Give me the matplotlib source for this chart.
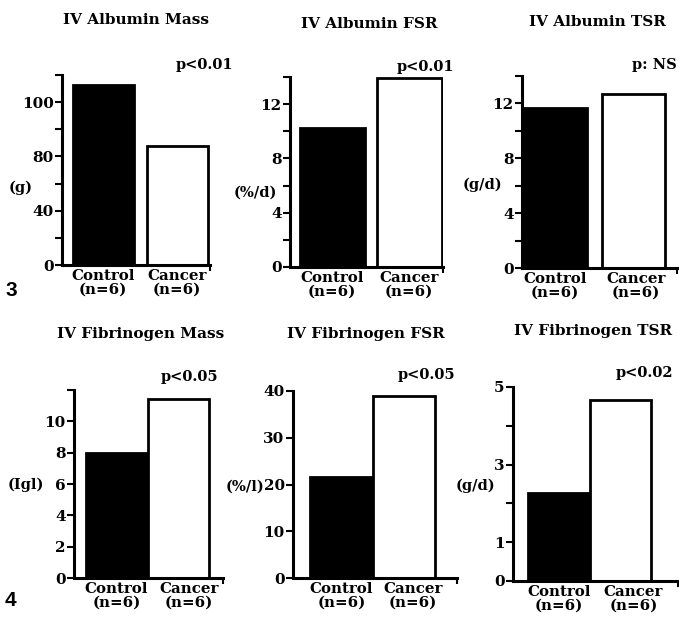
import numpy as np
import matplotlib
matplotlib.use('Agg')
import matplotlib.pyplot as plt

W, H = 679, 623

# ---- data ----
groups = ['Control\n(n=6)', 'Cancer\n(n=6)']

alb_mass = [106.4, 83.8]
alb_fsr = [10.25, 13.9]
alb_tsr = [11.7, 12.7]
fib_mass = [8.0, 11.4]
fib_fsr = [21.7, 38.9]
fib_tsr = [2.28, 4.67]

titles = ['IV Albumin Mass', 'IV Albumin FSR', 'IV Albumin TSR',
          'IV Fibrinogen Mass', 'IV Fibrinogen FSR', 'IV Fibrinogen TSR']
ylabels = ['(g)', '(%/d)', '(g/d)', '(Igl)', '(%/l)', '(g/d)']
pvals = ['p<0.01', 'p<0.01', 'p: NS', 'p<0.05', 'p<0.05', 'p<0.02']

major_ticks = [[0, 40, 80, 100], [0, 4, 8, 12], [0, 4, 8, 12],
               [0, 2, 4, 6, 8, 10], [0, 10, 20, 30, 40], [0, 1, 3, 5]]
minor_ticks = [[20, 60, 90, 110], [2, 6, 10, 14], [2, 6, 10, 14],
               [12], [], [2, 4]]
ylims = [110, 14, 14, 12, 40, 5]

# the albumin mass axis of the original is not evenly labelled
mass_vals = [0, 40, 80, 100, 120]
mass_steps = [0, 2, 4, 6, 8]

# ---- layout (pixels) ----
# spine_x, top_y, zero_y, end_x, bar1 (l, r), bar2 (l, r)
layout = [
    (62, 75, 265, 210, (72, 134), (147, 207)),
    (290, 77, 267, 443, (299, 365), (377, 441)),
    (522, 76, 268, 677, (526, 584), (599, 668)),
    (74, 390, 578, 223, (86, 147), (148, 209)),
    (293, 391, 578, 457, (309, 374), (374, 434)),
    (513, 387, 581, 678, (528, 590), (590, 651)),
]
# where the group labels sit, in bar units (bottom row is shifted right)
label_x = [[0, 1], [0, 1], [0, 1.03], [0, 1.17], [0, 1.14], [0, 1.21]]
title_pos = [(136, 20), (369, 24), (597, 22), (141, 334), (366, 334), (593, 331)]
ylab_pos = [(33, 188), (277, 193), (502, 185), (44, 485), (264, 487), (495, 486)]
p_pos = [(233, 65), (454, 67), (677, 65), (218, 377), (455, 375), (673, 373)]

data = [alb_mass, alb_fsr, alb_tsr, fib_mass, fib_fsr, fib_tsr]

serif = 'DejaVu Serif'
fig = plt.figure(figsize=(W / 100, H / 100), dpi=100)

for i in range(6):
    sx, ty, zy, ex, b1, b2 = layout[i]
    ax = fig.add_axes([sx / W, 1 - zy / H, (ex - sx) / W, (zy - ty) / H])

    if i == 0:
        ax.set_yscale('function',
                      functions=(lambda v: np.interp(v, mass_vals, mass_steps),
                                 lambda s: np.interp(s, mass_steps, mass_vals)))

    c1 = (b1[0] + b1[1]) / 2
    c2 = (b2[0] + b2[1]) / 2
    unit = c2 - c1
    bw = ((b1[1] - b1[0]) + (b2[1] - b2[0])) / 2 / unit
    ax.bar([0, 1], data[i], width=bw, color=['black', 'white'],
           edgecolor='black', linewidth=2)
    ax.set_xlim(-(c1 - sx) / unit, 1 + (ex - c2) / unit)
    ax.set_ylim(0, ylims[i])

    ax.set_yticks(major_ticks[i])
    ax.set_yticklabels([str(t) for t in major_ticks[i]])
    ax.set_yticks(minor_ticks[i], minor=True)
    ax.yaxis.set_minor_formatter(plt.NullFormatter())
    ax.tick_params(axis='y', which='both', direction='out', length=5,
                   width=1.5, pad=1)
    for lab in ax.get_yticklabels():
        lab.set_fontfamily(serif)
        lab.set_fontweight('bold')
        lab.set_fontsize(11)

    ax.set_xticks(label_x[i])
    ax.set_xticklabels(groups, fontfamily=serif, fontweight='bold',
                       fontsize=10.8, linespacing=0.95)
    ax.tick_params(axis='x', which='major', length=0, pad=3)
    ax.set_xticks([ax.get_xlim()[1]], minor=True)
    ax.tick_params(axis='x', which='minor', direction='out', length=4, width=1.5)

    for s in ['top', 'right']:
        ax.spines[s].set_visible(False)
    for s in ['left', 'bottom']:
        ax.spines[s].set_linewidth(2.2)
    ax.patch.set_alpha(0)

    tx, tyy = title_pos[i]
    fig.text(tx / W, 1 - tyy / H, titles[i], ha='center', va='center',
             fontfamily=serif, fontweight='bold', fontsize=11)
    lx, ly = ylab_pos[i]
    fig.text(lx / W, 1 - ly / H, ylabels[i], ha='right', va='center',
             fontfamily=serif, fontweight='bold', fontsize=10.5)
    px, py = p_pos[i]
    fig.text(px / W, 1 - py / H, pvals[i], ha='right', va='center',
             fontfamily=serif, fontweight='bold', fontsize=10.5)

fig.text(5 / W, 1 - 291 / H, '3', ha='left', va='center',
         fontfamily='Liberation Sans', fontweight='bold', fontsize=15)
fig.text(5 / W, 1 - 601 / H, '4', ha='left', va='center',
         fontfamily='Liberation Sans', fontweight='bold', fontsize=15)

fig.savefig('out.png', dpi=100)
